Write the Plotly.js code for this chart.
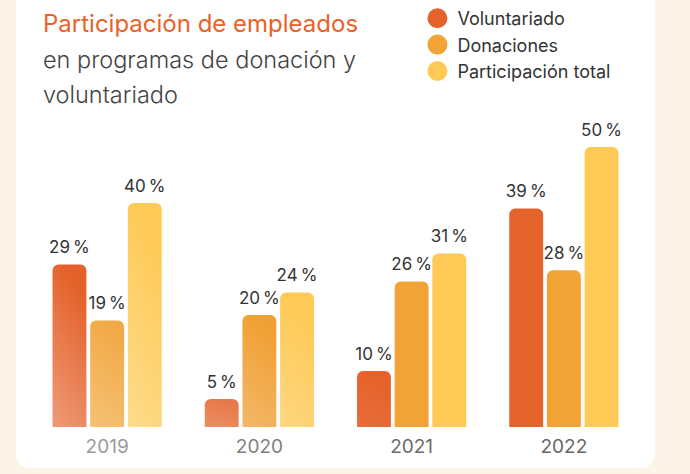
<!DOCTYPE html>
<html>
<head>
<meta charset="utf-8">
<script src="https://cdn.plot.ly/plotly-3.0.1.min.js"></script>
<style>
  html, body { margin: 0; padding: 0; background: #fdf4e8; overflow: hidden; }
  #card { position: absolute; left: 16px; top: -30px; width: 639px; height: 498px;
          background: #ffffff; border-radius: 14px; }
  #plot { position: absolute; left: 0; top: 0; width: 690px; height: 474px; }
</style>
</head>
<body>
<div id="card"></div>
<div id="plot"></div>
<script>
// data
var years = ['2019', '2020', '2021', '2022'];
var yearColors = ['#9a9a9a', '#7f7f7f', '#6a6a6a', '#666666'];
var voluntariado = [29, 5, 10, 39];
var donaciones = [19, 20, 26, 28];
var total = [40, 24, 31, 50];

var names = ['Voluntariado', 'Donaciones', 'Participación total'];
var colors = ['#e5622a', '#f2a336', '#fec955'];

// per-bar gradient (top colour, bottom colour), null = solid
var grads = [
    [['#e4612a', '#ee9b78'], ['#e8784a', '#eb8f63'], ['#e5622a', '#e86d3a'], null],
    [['#f2aa48', '#f5c276'], ['#f1a033', '#f3b86a'], null, null],
    [['#fec955', '#fedc8c'], ['#fec955', '#fed780'], null, null]
];

var font = 'Inter, "Noto Sans", sans-serif';
var series = [voluntariado, donaciones, total];

var data = [];
series.forEach(function (vals, i) {
    data.push({
        type: 'bar',
        x: years,
        y: vals,
        name: names[i],
        offsetgroup: 'g' + i,
        showlegend: false,
        marker: { color: colors[i], cornerradius: 6 },
        hoverinfo: 'skip'
    });
});
// value labels, grouped like the bars
series.forEach(function (vals, i) {
    data.push({
        type: 'scatter',
        mode: 'markers+text',
        x: years,
        y: vals,
        offsetgroup: 'g' + i,
        showlegend: false,
        text: vals.map(function (v) { return v + '\u2009%'; }),
        textposition: 'top center',
        textfont: { family: font, size: 17, color: '#333333' },
        marker: { size: 10, opacity: 0 },
        cliponaxis: false,
        hoverinfo: 'skip'
    });
});
// legend entries as circles
names.forEach(function (n, i) {
    data.push({
        type: 'scatter',
        mode: 'markers',
        x: [null],
        y: [null],
        name: n,
        marker: { color: colors[i], size: 16, line: { color: colors[i], width: 4 } }
    });
});

var layout = {
    width: 690,
    height: 474,
    margin: { l: 31, r: 50, t: 147, b: 47, autoexpand: false },
    paper_bgcolor: 'rgba(0,0,0,0)',
    plot_bgcolor: 'rgba(0,0,0,0)',
    barmode: 'group',
    bargap: 0.258,
    bargroupgap: 0.1,
    scattermode: 'group',
    scattergap: 0.258,
    font: { family: font },
    xaxis: {
        type: 'category',
        tickvals: years,
        ticktext: years.map(function (y, i) {
            return '<span style="color:' + yearColors[i] + '">' + y + '</span>';
        }),
        tickfont: { family: font, size: 19, color: '#666666' },
        showgrid: false, zeroline: false, showline: false, ticks: '',
        ticklabelstandoff: 6
    },
    yaxis: { range: [0, 50], visible: false, fixedrange: true },
    legend: {
        xref: 'container', yref: 'container',
        x: 0.605, y: 1.008, xanchor: 'left', yanchor: 'top',
        font: { family: font, size: 18, color: '#333333' },
        bgcolor: 'rgba(0,0,0,0)'
    },
    annotations: [
        { text: 'Participación de empleados', xref: 'paper', yref: 'paper',
          x: 0.0164, y: 1.5, xanchor: 'left', yanchor: 'top', showarrow: false,
          font: { family: font, size: 24, color: '#e8622a', weight: 400 } },
        { text: 'en programas de donación y', xref: 'paper', yref: 'paper',
          x: 0.0164, y: 1.37, xanchor: 'left', yanchor: 'top', showarrow: false,
          font: { family: font, size: 23.5, color: '#444444', weight: 300 } },
        { text: 'voluntariado', xref: 'paper', yref: 'paper',
          x: 0.0164, y: 1.245, xanchor: 'left', yanchor: 'top', showarrow: false,
          font: { family: font, size: 23.5, color: '#444444', weight: 300 } }
    ]
};

function paintGradients(gd) {
    var ns = 'http://www.w3.org/2000/svg';
    var svg = gd.querySelector('svg.main-svg');
    var defs = svg.querySelector('defs');
    var traces = gd.querySelectorAll('.barlayer .trace');
    traces.forEach(function (tr, ti) {
        var paths = tr.querySelectorAll('.point path');
        paths.forEach(function (p, pi) {
            var g = grads[ti] && grads[ti][pi];
            if (!g) return;
            var id = 'bargrad' + ti + '_' + pi;
            var lg = document.createElementNS(ns, 'linearGradient');
            lg.setAttribute('id', id);
            lg.setAttribute('x1', '0.3'); lg.setAttribute('y1', '0');
            lg.setAttribute('x2', '0'); lg.setAttribute('y2', '1');
            [[0, g[0]], [1, g[1]]].forEach(function (s) {
                var st = document.createElementNS(ns, 'stop');
                st.setAttribute('offset', s[0]);
                st.setAttribute('stop-color', s[1]);
                lg.appendChild(st);
            });
            defs.appendChild(lg);
            p.style.fill = 'url(#' + id + ')';
        });
    });
}

Plotly.newPlot('plot', data, layout, { displayModeBar: false, staticPlot: true })
    .then(paintGradients);
</script>
</body>
</html>
